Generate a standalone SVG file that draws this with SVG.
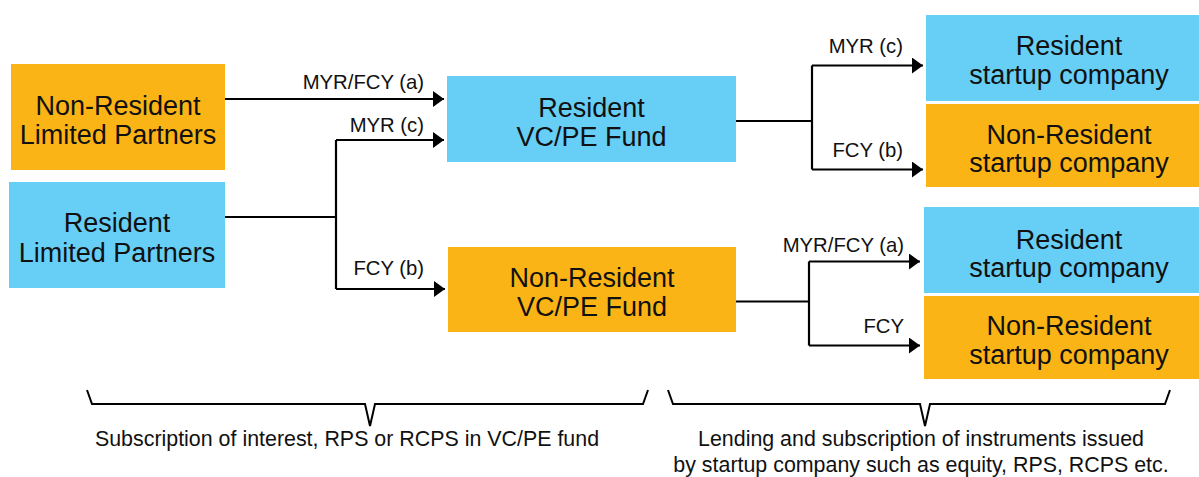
<svg xmlns="http://www.w3.org/2000/svg" width="1199" height="477" viewBox="0 0 1199 477">
  <style>
    .res { fill: #67CEF6; }
    .nres { fill: #FBB416; }
    .box { font-family: "Liberation Sans", Arial, sans-serif; font-size: 27px; fill: #111; text-anchor: middle; }
    .lbl { font-family: "Liberation Sans", Arial, sans-serif; font-size: 20.3px; fill: #111; text-anchor: end; }
    .cap { font-family: "Liberation Sans", Arial, sans-serif; font-size: 21.4px; fill: #111; text-anchor: middle; }
    .wire { fill: none; stroke: #000; stroke-width: 2.2; }
    .brace { fill: none; stroke: #000; stroke-width: 2; stroke-linejoin: miter; }
  </style>
  <defs>
    <marker id="arrow" markerUnits="userSpaceOnUse" markerWidth="12" markerHeight="16" refX="11" refY="8" orient="auto">
      <path d="M0,0 L11,8 L0,16 Z" fill="#000"/>
    </marker>
  </defs>
  <rect width="1199" height="477" fill="#fff"/>

  <!-- limited partners -->
  <g id="nonres-lp">
    <rect class="nres" x="11" y="64" width="214" height="106"/>
    <text class="box" x="118" y="115">Non-Resident</text>
    <text class="box" x="118" y="143.5">Limited Partners</text>
  </g>
  <g id="res-lp">
    <rect class="res" x="9" y="182" width="216" height="106"/>
    <text class="box" x="117" y="232">Resident</text>
    <text class="box" x="117" y="261.5">Limited Partners</text>
  </g>

  <!-- funds -->
  <g id="res-fund">
    <rect class="res" x="447" y="76" width="289" height="86"/>
    <text class="box" x="591.5" y="117">Resident</text>
    <text class="box" x="591.5" y="146">VC/PE Fund</text>
  </g>
  <g id="nonres-fund">
    <rect class="nres" x="448" y="247" width="288" height="85"/>
    <text class="box" x="592" y="287">Non-Resident</text>
    <text class="box" x="592" y="316">VC/PE Fund</text>
  </g>

  <!-- startup companies -->
  <g id="res-startup-1">
    <rect class="res" x="926" y="15" width="290" height="86"/>
    <text class="box" x="1069" y="55">Resident</text>
    <text class="box" x="1069" y="84">startup company</text>
  </g>
  <g id="nonres-startup-1">
    <rect class="nres" x="926" y="104" width="290" height="83"/>
    <text class="box" x="1069" y="143.5">Non-Resident</text>
    <text class="box" x="1069" y="172">startup company</text>
  </g>
  <g id="res-startup-2">
    <rect class="res" x="924" y="207" width="292" height="86"/>
    <text class="box" x="1069" y="248.5">Resident</text>
    <text class="box" x="1069" y="277">startup company</text>
  </g>
  <g id="nonres-startup-2">
    <rect class="nres" x="924" y="296" width="292" height="83"/>
    <text class="box" x="1069" y="335">Non-Resident</text>
    <text class="box" x="1069" y="363.5">startup company</text>
  </g>

  <!-- connectors -->
  <g id="connectors">
    <path class="wire" d="M225,99 H444" marker-end="url(#arrow)"/>
    <path class="wire" d="M225,217 H336"/>
    <path class="wire" d="M336,140 V289"/>
    <path class="wire" d="M336,140 H444" marker-end="url(#arrow)"/>
    <path class="wire" d="M336,289 H445" marker-end="url(#arrow)"/>

    <path class="wire" d="M736,121 H812"/>
    <path class="wire" d="M812,65.5 V169.5"/>
    <path class="wire" d="M812,65.5 H923" marker-end="url(#arrow)"/>
    <path class="wire" d="M812,169.5 H923" marker-end="url(#arrow)"/>

    <path class="wire" d="M736,301.5 H809"/>
    <path class="wire" d="M809,261.5 V345.5"/>
    <path class="wire" d="M809,261.5 H920" marker-end="url(#arrow)"/>
    <path class="wire" d="M809,345.5 H920" marker-end="url(#arrow)"/>

    <text class="lbl" x="424" y="89">MYR/FCY (a)</text>
    <text class="lbl" x="424" y="132">MYR (c)</text>
    <text class="lbl" x="424" y="275">FCY (b)</text>
    <text class="lbl" x="903" y="53">MYR (c)</text>
    <text class="lbl" x="903" y="157">FCY (b)</text>
    <text class="lbl" x="904" y="251.5">MYR/FCY (a)</text>
    <text class="lbl" x="904" y="333">FCY</text>
  </g>

  <!-- braces with captions -->
  <g id="brace-funds">
    <path class="brace" d="M87,390 L92,404 H365 L370,426 L375,404 H643 L648,390"/>
    <text class="cap" x="347" y="446">Subscription of interest, RPS or RCPS in VC/PE fund</text>
  </g>
  <g id="brace-startups">
    <path class="brace" d="M668,390 L673,404 H920 L925,426 L930,404 H1165 L1170,390"/>
    <text class="cap" x="921" y="446">Lending and subscription of instruments issued</text>
    <text class="cap" x="921" y="472">by startup company such as equity, RPS, RCPS etc.</text>
  </g>
</svg>
